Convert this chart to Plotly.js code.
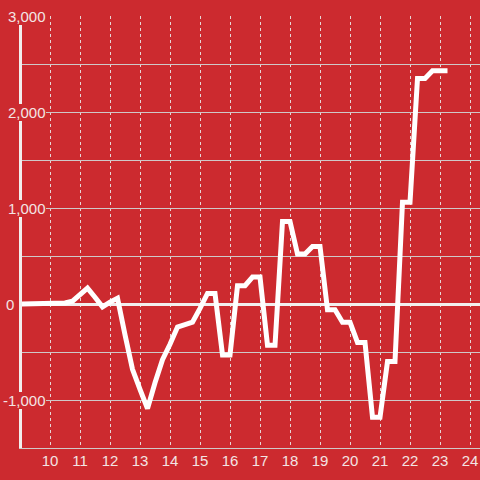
<!DOCTYPE html>
<html>
<head>
<meta charset="utf-8">
<script src="https://cdn.plot.ly/plotly-3.0.1.min.js"></script>
<style>html,body{margin:0;padding:0;background:#cc2a2f;}#chart{width:480px;height:480px;}</style>
</head>
<body>
<div id="chart"></div>
<script>
const xValues = [9.0, 9.25, 9.5, 9.75, 10.0, 10.25, 10.5, 10.75, 11.0, 11.25, 11.5, 11.75,
  12.0, 12.25, 12.5, 12.75, 13.0, 13.25, 13.5, 13.75, 14.0, 14.25, 14.5, 14.75,
  15.0, 15.25, 15.5, 15.75, 16.0, 16.25, 16.5, 16.75, 17.0, 17.25, 17.5, 17.75,
  18.0, 18.25, 18.5, 18.75, 19.0, 19.25, 19.5, 19.75, 20.0, 20.25, 20.5, 20.75,
  21.0, 21.25, 21.5, 21.75, 22.0, 22.25, 22.5, 22.75, 23.0, 23.25];
const yValues = [0, 0, 0, 0, 0, 0, 10, 30, 100, 165, 70, -30,
  20, 60, -320, -680, -890, -1090, -820, -580, -420, -240, -215, -190,
  -45, 110, 110, -530, -530, 190, 190, 280, 280, -430, -430, 860,
  860, 520, 520, 600, 600, -60, -60, -190, -190, -400, -400, -1180,
  -1180, -600, -600, 1060, 1060, 2350, 2350, 2430, 2430, 2430];
const xTickVals = [10, 11, 12, 13, 14, 15, 16, 17, 18, 19, 20, 21, 22, 23, 24];
const yTickVals = [-1000, 0, 1000, 2000, 3000];
const yTickText = ['-1,000', '0', '1,000', '2,000', '3,000'];

const RED = '#cc2a2f';
const LABEL = '#f3e4e4';
const FONT = 'Liberation Sans, Arial, sans-serif';

const annotations = yTickVals.map((v, i) => {
  const isZero = v === 0;
  return {
    xref: 'paper', yref: 'y', x: 0, y: v,
    text: yTickText[i], showarrow: false,
    xanchor: isZero ? 'left' : 'right',
    xshift: isZero ? -16 : 24,
    bgcolor: RED, borderpad: 0, borderwidth: 0,
    font: {family: FONT, size: 15, color: LABEL}
  };
});

const trace = {
  x: xValues, y: yValues, type: 'scatter', mode: 'lines',
  line: {color: '#ffffff', width: 5},
  hoverinfo: 'skip', cliponaxis: false
};

const layout = {
  width: 480, height: 480,
  margin: {l: 22, r: 0, t: 16, b: 32},
  paper_bgcolor: RED, plot_bgcolor: RED,
  showlegend: false,
  font: {family: FONT, size: 15, color: LABEL},
  xaxis: {
    range: [9.0667, 24.3333], tickvals: xTickVals,
    showgrid: true, gridcolor: '#e6d6d6', griddash: 'dot', gridwidth: 1,
    showline: true, linecolor: '#d0c8c8', linewidth: 1,
    zeroline: false, ticks: '', ticklabelstandoff: -1,
    tickfont: {family: FONT, size: 15, color: LABEL}
  },
  yaxis: {
    range: [-1500, 3000], dtick: 500, tick0: 0,
    showticklabels: false, ticks: '',
    showgrid: true, gridcolor: '#cfc8c8', gridwidth: 1,
    zeroline: true, zerolinecolor: '#f2eeee', zerolinewidth: 3,
    showline: true, linecolor: '#f2eeee', linewidth: 3
  },
  annotations: annotations
};

Plotly.newPlot('chart', [trace], layout, {displayModeBar: false, staticPlot: true});
</script>
</body>
</html>
